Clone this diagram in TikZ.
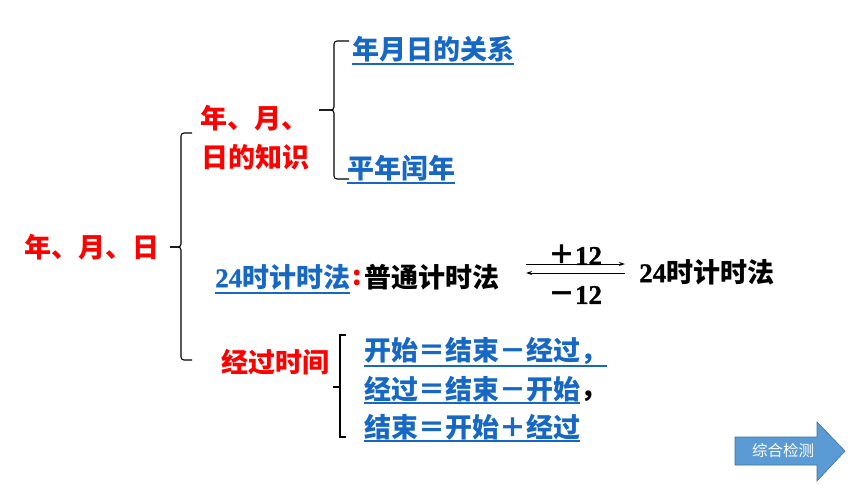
\documentclass[tikz,border=0pt]{standalone}
\usepackage{fontspec}
\newfontfamily\cjk{Noto Sans CJK SC}
\newfontface\tms{Liberation Serif Bold}[FakeBold=1]
\usetikzlibrary{arrows.meta}
\definecolor{lnk}{RGB}{22,104,196}
\definecolor{btn}{RGB}{91,155,213}
\definecolor{btnb}{RGB}{65,113,156}
\tikzset{
  txt/.style={anchor=west,inner sep=0pt,font=\fontsize{27}{30}\selectfont\cjk\bfseries},
  redt/.style={txt,text=red},
  bluet/.style={txt,text=lnk},
  blackt/.style={txt,text=black},
  ul/.style={draw=lnk,line width=1.4pt},
  brace/.style={draw=black,line width=1.1pt,rounded corners=3pt},
  conv/.style={line width=0.9pt,-{Stealth[length=6pt,width=4pt]}},
  lbl/.style={inner sep=0pt,font=\fontsize{27}{30}\selectfont\cjk\bfseries}
}
\newcommand{\dg}[1]{{\tms\mdseries #1}}
\begin{document}
\begin{tikzpicture}[x=1pt,y=-1pt]
\useasboundingbox (0,0) rectangle (860,484);
% main title
\node[redt] (main) at (24,247) {年、月、日};
% big brace
\draw[brace] (192,133) -- (181,133) -- (181,247) -- (170,247);
\draw[brace] (170,247) -- (181,247) -- (181,360) -- (192,360);
% branch 1
\node[redt] (k1) at (200,118) {年、月、};
\node[redt] (k2) at (201,157) {日的知识};
\draw[brace] (349,41) -- (334,41) -- (334,110) -- (319,110);
\draw[brace] (319,110) -- (334,110) -- (334,179) -- (349,179);
\node[bluet] (rel) at (352,49) {年月日的关系};
\draw[ul] ([yshift=-2pt]rel.south west) -- ([yshift=-2pt]rel.south east);
\node[bluet] (leap) at (347,168) {平年闰年};
\draw[ul] ([yshift=-2pt]leap.south west) -- ([yshift=-2pt]leap.south east);
% branch 2
\node[bluet] (t24) at (215,277) {\dg{24}时计时法};
\draw[ul] ([yshift=-3pt]t24.south west) -- ([yshift=-3pt]t24.south east);
\node[redt] (colon) at (352,278) {:};
\node[blackt] (norm) at (364,277) {普通计时法};
\coordinate (a1) at (526,264);
\coordinate (a2) at (625,264);
\coordinate (b1) at (625,273);
\coordinate (b2) at (526,273);
\draw[conv] (a1) -- (a2);
\draw[conv] (b1) -- (b2);
\node[lbl] (plus) at (575,255) {＋\dg{12}};
\node[lbl] (minus) at (575,295) {－\dg{12}};
\node[blackt] (t24b) at (639,272) {\dg{24}时计时法};
% branch 3
\node[redt] (dur) at (221,362) {经过时间};
\draw[brace,rounded corners=0pt] (346,335) -- (340,335) -- (340,437) -- (346,437);
\draw[brace,rounded corners=0pt] (340,387) -- (333,387);
\node[bluet] (f1) at (364,351) {开始＝结束－经过，};
\draw[ul] ([yshift=-1pt]f1.south west) -- ([yshift=-1pt]f1.south east);
\node[bluet] (f2) at (364,389) {经过＝结束－开始};
\draw[ul] ([yshift=-1pt]f2.south west) -- ([yshift=-1pt]f2.south east);
\node[blackt,anchor=south west] (f2c) at (f2.south east) {，};
\node[bluet] (f3) at (364,427) {结束＝开始＋经过};
\draw[ul] ([yshift=-1pt]f3.south west) -- ([yshift=-1pt]f3.south east);
% button
\filldraw[fill=btn,draw=btnb,line width=0.6pt] (735,437) -- (817,437) -- (817,422) -- (845,451) -- (817,481) -- (817,465) -- (735,465) -- cycle;
\node[inner sep=0pt,text=white,font=\fontsize{15.5}{17}\selectfont\cjk] (btnlbl) at (783,451) {综合检测};
\end{tikzpicture}
\end{document}
